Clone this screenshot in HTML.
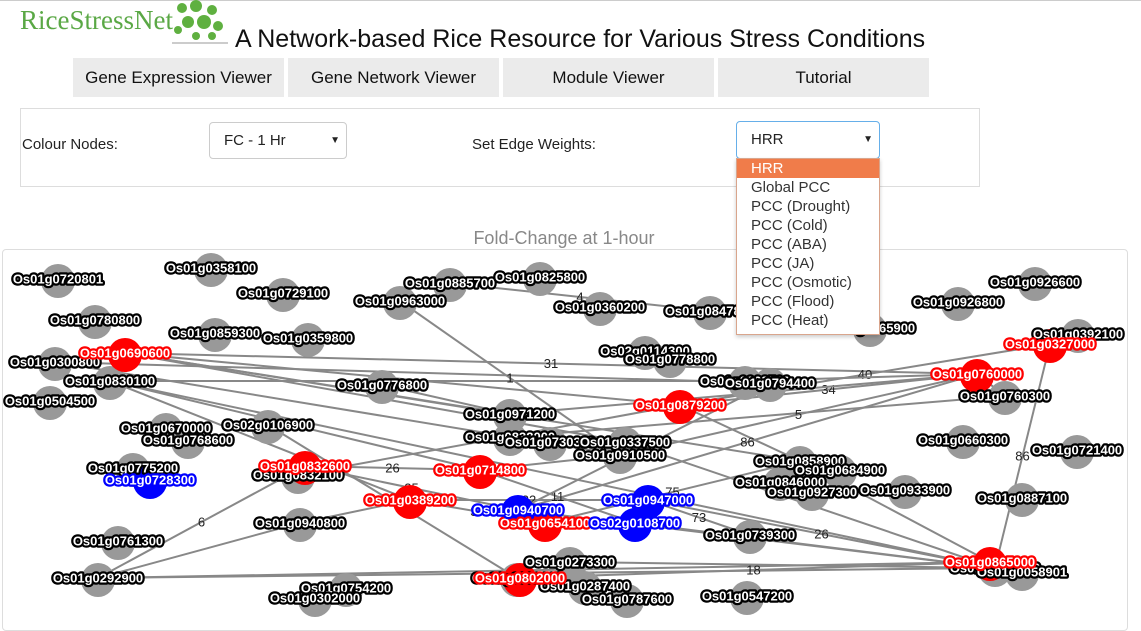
<!DOCTYPE html>
<html><head><meta charset="utf-8">
<style>
body{margin:0;width:1141px;height:618px;overflow:hidden;background:#fff;font-family:"Liberation Sans",sans-serif;position:relative}
.abs{position:absolute}
.nav{position:absolute;top:58px;height:39px;background:#ebebeb;font-size:17px;color:#111;text-align:center;line-height:40px}
.sel{position:absolute;border:1px solid #ccc;border-radius:4px;background:#fff;font-size:15px;color:#222}
.dd div{height:19px;line-height:19px;padding-left:14px;font-size:15px;color:#333}
svg text.lbl{font-size:13px;font-weight:bold;paint-order:stroke;stroke-width:4.5px;stroke-linejoin:round;fill:#fff;text-anchor:middle;dominant-baseline:central}
svg text.w{font-size:13px;fill:#222;text-anchor:middle;dominant-baseline:central}
</style></head><body>
<div class="abs" style="left:0;top:0;width:1141px;height:1px;background:#ccc"></div>
<div class="abs" style="left:20px;top:5px;font-family:'Liberation Serif',serif;font-size:27px;color:#5aa845">RiceStressNet</div>
<svg class="abs" style="left:168px;top:0" width="62" height="46"><g fill="#5fb040"><circle cx="14" cy="8" r="5"/><circle cx="28" cy="6" r="6"/><circle cx="44" cy="10" r="5"/><circle cx="20" cy="22" r="6"/><circle cx="36" cy="22" r="7"/><circle cx="50" cy="26" r="5"/><circle cx="10" cy="30" r="4"/><circle cx="28" cy="36" r="4"/><circle cx="44" cy="36" r="4"/></g><rect x="4" y="42" width="56" height="2" fill="#ccc"/></svg>
<div class="abs" style="left:235px;top:25px;font-size:25px;color:#111">A Network-based Rice Resource for Various Stress Conditions</div>
<div class="nav" style="left:73px;width:211px">Gene Expression Viewer</div>
<div class="nav" style="left:288px;width:211px">Gene Network Viewer</div>
<div class="nav" style="left:503px;width:211px">Module Viewer</div>
<div class="nav" style="left:718px;width:211px">Tutorial</div>
<div class="abs" style="left:20px;top:108px;width:958px;height:77px;border:1px solid #ddd"></div>
<div class="abs" style="left:22px;top:136px;font-size:15px;color:#222">Colour Nodes:</div>
<div class="sel" style="left:209px;top:122px;width:136px;height:35px;line-height:35px"><span style="margin-left:14px">FC - 1 Hr</span><span style="position:absolute;right:6px;font-size:10px">▼</span></div>
<div class="abs" style="left:472px;top:136px;font-size:15px;color:#222">Set Edge Weights:</div>
<div class="sel" style="left:736px;top:121px;width:142px;height:36px;line-height:36px;border-color:#66afe9"><span style="margin-left:14px">HRR</span><span style="position:absolute;right:6px;font-size:10px">▼</span></div>
<div class="abs" style="left:0;width:1128px;top:228px;text-align:center;font-size:18px;color:#888">Fold-Change at 1-hour</div>
<div class="abs" style="left:2px;top:249px;width:1124px;height:380px;border:1px solid #ddd;border-radius:4px"></div>
<svg class="abs" id="net" style="left:0;top:0" width="1141" height="618"></svg>
<div class="abs dd" style="left:736px;top:158px;width:142px;height:175px;background:#fff;border:1px solid #d9a58c;box-shadow:0 2px 4px rgba(0,0,0,.2)">
<div style="background:#f07c4a;color:#fff">HRR</div>
<div>Global PCC</div>
<div>PCC (Drought)</div>
<div>PCC (Cold)</div>
<div>PCC (ABA)</div>
<div>PCC (JA)</div>
<div>PCC (Osmotic)</div>
<div>PCC (Flood)</div>
<div>PCC (Heat)</div>
</div>
<script>
const nodeNames=["Os01g0720801","Os01g0358100","Os01g0729100","Os01g0963000","Os01g0885700","Os01g0825800","Os01g0360200","Os01g0847800","Os01g0926800","Os01g0926600","Os01g0780800","Os01g0859300","Os01g0359800","Os02g0114300","Os01g0778800","Os01g0392100","Os01g0865900","Os01g0830100","Os01g0300800","Os01g0504500","Os01g0776800","Os01g0962700","Os01g0794400","Os01g0760300","Os01g0971200","Os01g0670000","Os01g0768600","Os02g0106900","Os01g0832000","Os01g0730300","Os01g0337500","Os01g0910500","Os01g0660300","Os01g0721400","Os01g0775200","Os01g0832100","Os01g0858900","Os01g0684900","Os01g0846000","Os01g0927300","Os01g0933900","Os01g0887100","Os01g0940800","Os01g0739300","Os01g0761300","Os01g0273300","Os01g0292900","Os01g0802100","Os01g0754200","Os01g0302000","Os01g0287400","Os01g0787600","Os01g0547200","Os01g0721200","Os01g0058901","Os01g0690600","Os01g0832600","Os01g0389200","Os01g0714800","Os01g0879200","Os01g0760000","Os01g0327000","Os01g0654100","Os01g0865000","Os01g0802000","Os01g0728300","Os01g0940700","Os01g0947000","Os02g0108700"];
const nodeX=[58,211,283,400,450,540,600,710,958,1035,95,215,308,645,670,1078,870,110,55,50,382,745,770,1005,510,166,188,268,510,550,625,620,963,1077,133,298,800,840,780,812,905,1022,300,750,118,570,98,517,346,315,585,627,747,995,1022,125,305,410,480,680,977,1050,545,990,520,150,518,648,635];
const nodeY=[279,268,293,301,283,277,307,311,302,282,320,333,338,351,359,334,328,381,362,401,385,381,383,396,414,428,440,425,437,442,442,455,440,450,468,475,461,470,482,492,490,498,523,535,541,562,578,578,588,598,586,599,596,568,572,353,466,500,470,405,374,344,523,562,578,480,510,500,523];
const nodeGroup=["g","g","g","g","g","g","g","g","g","g","g","g","g","g","g","g","g","g","g","g","g","g","g","g","g","g","g","g","g","g","g","g","g","g","g","g","g","g","g","g","g","g","g","g","g","g","g","g","g","g","g","g","g","g","g","r","r","r","r","r","r","r","r","r","r","b","b","b","b"];
const edgeFrom=[4,55,55,55,55,55,17,17,17,17,18,18,3,59,59,59,60,60,61,46,46,46,46,47,67,67,56,56,57,57,58,58,24,28,30,36,21,20,27,35,42,45,53,66,68,62,31,22];
const edgeTo=[7,59,60,36,24,30,57,53,21,58,22,31,31,60,61,36,66,23,53,56,42,53,63,63,53,43,58,66,62,67,31,68,60,23,53,63,60,24,47,59,57,53,63,53,53,36,60,66];
const edgeW=["4","","31","","","","","","","","","","1","34","40","","86","","86","6","","","","18","26","73","26","25","37","22","","11","61","","","","","","42","","","","","","","75","5","29"];
const svg=document.getElementById('net');const NS='http://www.w3.org/2000/svg';
const colors={g:'#999',r:'#f00',b:'#00f'};const strokes={g:'#000',r:'#f00',b:'#00f'};
for(let i=0;i<edgeFrom.length;i++){const a=edgeFrom[i],b=edgeTo[i];
const l=document.createElementNS(NS,'line');


l.setAttribute('x1',nodeX[a]);l.setAttribute('y1',nodeY[a]);l.setAttribute('x2',nodeX[b]);l.setAttribute('y2',nodeY[b]);
l.setAttribute('stroke','#888');l.setAttribute('stroke-width','2');svg.appendChild(l);
if(edgeW[i]){const t=document.createElementNS(NS,'text');


t.setAttribute('class','w');t.setAttribute('x',(nodeX[a]+nodeX[b])/2);t.setAttribute('y',(nodeY[a]+nodeY[b])/2);t.textContent=edgeW[i];svg.appendChild(t);}}
const order=[...nodeNames.keys()];
for(const i of order){const c=document.createElementNS(NS,'circle');


c.setAttribute('cx',nodeX[i]);c.setAttribute('cy',nodeY[i]+2);c.setAttribute('r','17');c.setAttribute('fill',colors[nodeGroup[i]]);svg.appendChild(c);}
for(const i of order){const t=document.createElementNS(NS,'text');


t.setAttribute('class','lbl');t.setAttribute('x',nodeX[i]);t.setAttribute('y',nodeY[i]);t.setAttribute('stroke',strokes[nodeGroup[i]]);t.textContent=nodeNames[i];svg.appendChild(t);}
</script>
</body></html>
